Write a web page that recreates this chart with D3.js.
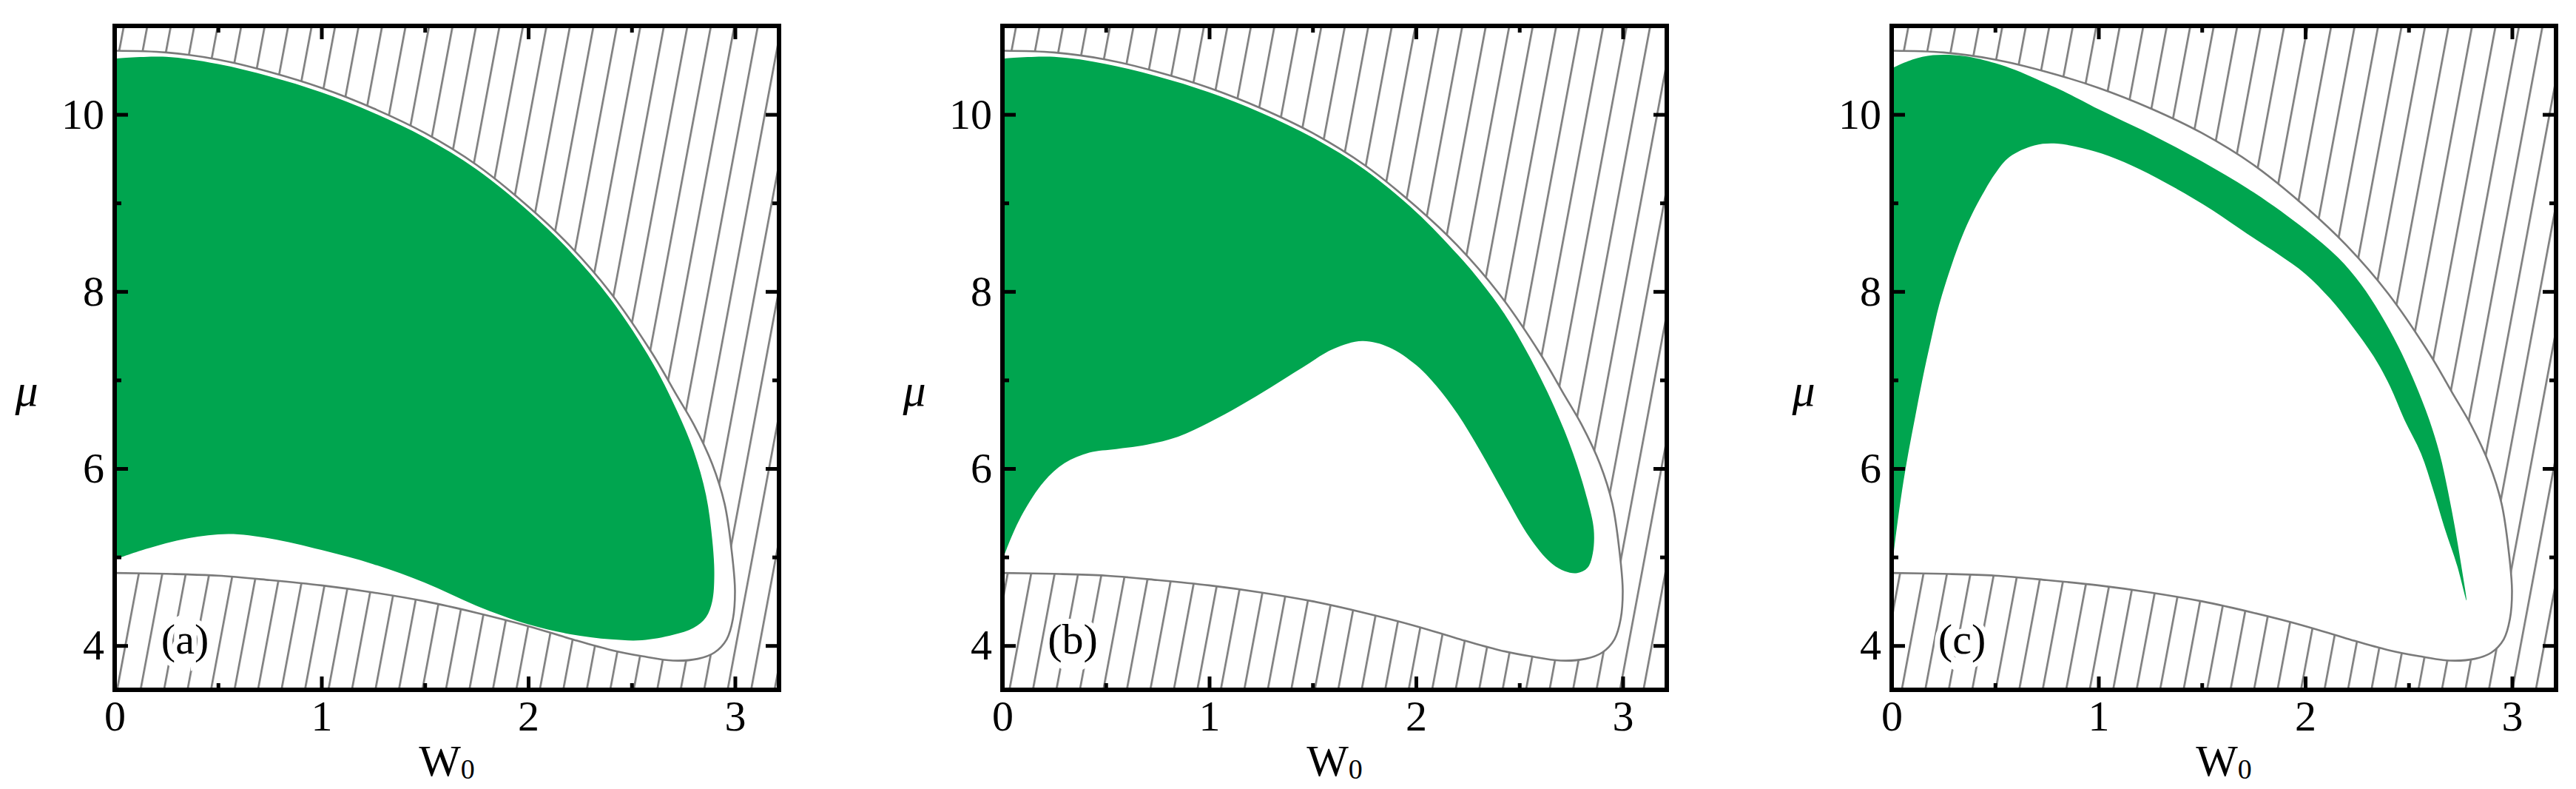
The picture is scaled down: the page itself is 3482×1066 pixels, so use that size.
<!DOCTYPE html>
<html>
<head>
<meta charset="utf-8">
<script src="https://cdn.jsdelivr.net/npm/d3@7"></script>
<style>
  body { margin: 0; background: #fff; }
</style>
</head>
<body>
<div id="chart"></div>
<script>

// boundary of the allowed region, [W0, mu] - same in all three panels
var boundary = [
  [0, 10.72], [0.25, 10.70], [0.5, 10.62], [0.75, 10.48], [1.0, 10.30],
  [1.25, 10.07], [1.5, 9.79], [1.75, 9.43], [2.0, 8.96], [2.2, 8.52],
  [2.4, 7.98], [2.6, 7.30], [2.72, 6.82], [2.8, 6.50], [2.89, 6.05],
  [2.95, 5.60], [2.985, 5.05], [3.0, 4.62], [2.99, 4.30], [2.96, 4.07],
  [2.9, 3.92], [2.82, 3.85], [2.7, 3.83], [2.55, 3.88], [2.4, 3.95],
  [2.2, 4.08], [2.0, 4.22], [1.75, 4.37], [1.5, 4.50], [1.25, 4.60],
  [1.0, 4.68], [0.75, 4.74], [0.5, 4.79], [0.25, 4.81], [0, 4.82]
]

var greenA = [
  [0, 10.63], [0.25, 10.65], [0.5, 10.57], [0.75, 10.43], [1.0, 10.25],
  [1.25, 10.02], [1.5, 9.74], [1.75, 9.38], [2.0, 8.91], [2.2, 8.46],
  [2.4, 7.91], [2.6, 7.20], [2.72, 6.65], [2.8, 6.20], [2.86, 5.70],
  [2.89, 5.20], [2.9, 4.80], [2.89, 4.50], [2.86, 4.32], [2.8, 4.20],
  [2.7, 4.12], [2.55, 4.06], [2.4, 4.07], [2.2, 4.13], [2.0, 4.24],
  [1.75, 4.45], [1.5, 4.71], [1.25, 4.92], [1.0, 5.08], [0.75, 5.21],
  [0.55, 5.26], [0.35, 5.21], [0.15, 5.09], [0, 4.97]
]

var greenB = [
  [0, 10.63], [0.25, 10.65], [0.5, 10.57], [0.75, 10.43], [1.0, 10.25],
  [1.25, 10.02], [1.5, 9.74], [1.75, 9.38], [2.0, 8.90], [2.2, 8.42],
  [2.31, 8.12], [2.43, 7.74], [2.55, 7.26], [2.67, 6.69], [2.76, 6.17],
  [2.83, 5.64], [2.86, 5.31], [2.855, 5.04], [2.83, 4.88], [2.78, 4.82],
  [2.72, 4.84], [2.65, 4.94], [2.55, 5.22], [2.43, 5.70], [2.31, 6.20],
  [2.2, 6.62], [2.1, 6.93], [2.0, 7.17], [1.87, 7.37], [1.74, 7.44],
  [1.6, 7.35], [1.45, 7.14], [1.3, 6.92], [1.15, 6.71], [1.0, 6.52],
  [0.85, 6.36], [0.7, 6.27], [0.55, 6.22], [0.42, 6.18], [0.3, 6.06],
  [0.2, 5.85], [0.1, 5.50], [0.03, 5.15], [0, 4.96]
]

var greenC = [
  [0, 10.52], [0.1, 10.62], [0.2, 10.67], [0.35, 10.66], [0.5, 10.58],
  [0.6, 10.50], [0.7, 10.40], [0.85, 10.24], [1.0, 10.06], [1.25, 9.78],
  [1.5, 9.47], [1.75, 9.12], [2.0, 8.70], [2.16, 8.38], [2.27, 8.08],
  [2.36, 7.76], [2.45, 7.38], [2.53, 6.97], [2.6, 6.55], [2.65, 6.17],
  [2.69, 5.75], [2.725, 5.32], [2.755, 4.90], [2.78, 4.51],
  [2.735, 4.90], [2.675, 5.32], [2.62, 5.75], [2.56, 6.17], [2.48, 6.55],
  [2.41, 6.93], [2.33, 7.27], [2.23, 7.60], [2.12, 7.92], [2.0, 8.20],
  [1.87, 8.42], [1.72, 8.65], [1.55, 8.92], [1.37, 9.17], [1.2, 9.38],
  [1.05, 9.53], [0.92, 9.62], [0.8, 9.67], [0.69, 9.65], [0.57, 9.52],
  [0.5, 9.33], [0.44, 9.10], [0.39, 8.88], [0.34, 8.62], [0.29, 8.30],
  [0.23, 7.85], [0.19, 7.45], [0.15, 7.02], [0.115, 6.60], [0.08, 6.17],
  [0.05, 5.75], [0.03, 5.42], [0.01, 5.05], [0, 4.82]
]

var panelLabels = ["(a)", "(b)", "(c)"]
var xTicks = [0, 1, 2, 3]
var xMinor = [0.5, 1.5, 2.5]
var yTicks = [4, 6, 8, 10]
var yMinor = [5, 7, 9]

var panels = [
  {green: greenA, label: panelLabels[0], left: 155},
  {green: greenB, label: panelLabels[1], left: 1355},
  {green: greenC, label: panelLabels[2], left: 2557}
]

var svgW = 3482, svgH = 1066
var plotW = 898, plotTop = 35, plotH = 897
var font = "'Liberation Serif', 'Times New Roman', serif"

var svg = d3.select("#chart")
  .append("svg")
  .attr("width", svgW)
  .attr("height", svgH)

var defs = svg.append("defs")

// diagonal hatching
var pat = defs.append("pattern")
  .attr("id", "hatch")
  .attr("patternUnits", "userSpaceOnUse")
  .attr("width", 31.2)
  .attr("height", 40)
  .attr("patternTransform", "rotate(10.6)")
pat.append("line")
  .attr("x1", 15).attr("x2", 15)
  .attr("y1", -5).attr("y2", 45)
  .attr("stroke", "#7a7a7a")
  .attr("stroke-width", 2.6)

panels.forEach(function(p, i) {
  var x = d3.scaleLinear().domain([0, 3.213]).range([p.left, p.left + plotW])
  var y = d3.scaleLinear().domain([3.5, 11]).range([plotTop + plotH, plotTop])

  var line = d3.line()
    .x(function(d) { return x(d[0]) })
    .y(function(d) { return y(d[1]) })
    .curve(d3.curveCatmullRom.alpha(0.5))

  defs.append("clipPath")
    .attr("id", "clip" + i)
    .append("rect")
    .attr("x", p.left).attr("y", plotTop)
    .attr("width", plotW).attr("height", plotH)

  var g = svg.append("g").attr("clip-path", "url(#clip" + i + ")")

  g.append("rect")
    .attr("x", p.left).attr("y", plotTop)
    .attr("width", plotW).attr("height", plotH)
    .attr("fill", "url(#hatch)")

  // inside of the boundary is white
  g.append("path")
    .attr("d", line(boundary) + "Z")
    .attr("fill", "#fff")

  g.append("path")
    .attr("d", line(p.green) + "Z")
    .attr("fill", "#00a54f")

  g.append("path")
    .attr("d", line(boundary))
    .attr("fill", "none")
    .attr("stroke", "#7a7a7a")
    .attr("stroke-width", 2.6)

  // panel label with white halo
  svg.append("text")
    .attr("x", x(0.34))
    .attr("y", y(4.07))
    .attr("text-anchor", "middle")
    .attr("dominant-baseline", "central")
    .attr("font-family", font)
    .attr("font-size", 58)
    .attr("fill", "#000")
    .attr("stroke", "#fff")
    .attr("stroke-width", 14)
    .attr("paint-order", "stroke")
    .text(p.label)

  // axes, ticks pointing inward
  function styleAxis(sel) {
    sel.select(".domain").remove()
    sel.selectAll(".tick line").attr("stroke", "#000").attr("stroke-width", 5)
    sel.selectAll("text")
      .attr("font-family", font)
      .attr("font-size", 58)
      .attr("fill", "#000")
  }

  svg.append("g")
    .attr("transform", "translate(0," + (plotTop + plotH) + ")")
    .call(d3.axisBottom(x).tickValues(xTicks).tickSize(-18).tickPadding(14).tickFormat(d3.format("d")))
    .call(styleAxis)
  svg.append("g")
    .attr("transform", "translate(0," + (plotTop + plotH) + ")")
    .call(d3.axisBottom(x).tickValues(xMinor).tickSize(-9).tickFormat(""))
    .call(styleAxis)
  svg.append("g")
    .attr("transform", "translate(0," + plotTop + ")")
    .call(d3.axisTop(x).tickValues(xTicks).tickSize(-18).tickFormat(""))
    .call(styleAxis)
  svg.append("g")
    .attr("transform", "translate(0," + plotTop + ")")
    .call(d3.axisTop(x).tickValues(xMinor).tickSize(-9).tickFormat(""))
    .call(styleAxis)

  svg.append("g")
    .attr("transform", "translate(" + p.left + ",0)")
    .call(d3.axisLeft(y).tickValues(yTicks).tickSize(-18).tickPadding(14).tickFormat(d3.format("d")))
    .call(styleAxis)
  svg.append("g")
    .attr("transform", "translate(" + p.left + ",0)")
    .call(d3.axisLeft(y).tickValues(yMinor).tickSize(-9).tickFormat(""))
    .call(styleAxis)
  svg.append("g")
    .attr("transform", "translate(" + (p.left + plotW) + ",0)")
    .call(d3.axisRight(y).tickValues(yTicks).tickSize(-18).tickFormat(""))
    .call(styleAxis)
  svg.append("g")
    .attr("transform", "translate(" + (p.left + plotW) + ",0)")
    .call(d3.axisRight(y).tickValues(yMinor).tickSize(-9).tickFormat(""))
    .call(styleAxis)

  // frame
  svg.append("rect")
    .attr("x", p.left).attr("y", plotTop)
    .attr("width", plotW).attr("height", plotH)
    .attr("fill", "none")
    .attr("stroke", "#000")
    .attr("stroke-width", 6)

  // axis titles
  svg.append("text")
    .attr("x", p.left - 119)
    .attr("y", 527)
    .attr("text-anchor", "middle")
    .attr("dominant-baseline", "central")
    .attr("font-family", font)
    .attr("font-style", "italic")
    .attr("font-size", 62)
    .text("μ")

  var xt = svg.append("text")
    .attr("x", p.left + plotW / 2)
    .attr("y", 1048)
    .attr("text-anchor", "middle")
    .attr("font-family", font)
    .attr("font-size", 60)
  xt.append("tspan").text("W")
  xt.append("tspan")
    .attr("font-size", 38)
    .attr("dy", 4)
    .text("0")
})

</script>
</body>
</html>
